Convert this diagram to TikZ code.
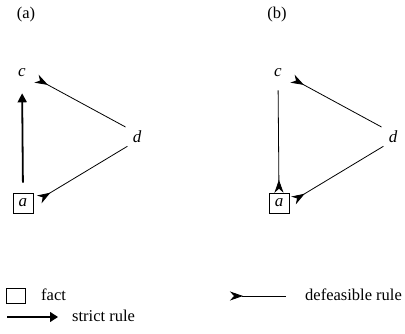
\documentclass[tikz,border=0pt]{standalone}
\usepackage{fontspec}
\setmainfont{Liberation Serif}
\usetikzlibrary{arrows.meta}

\tikzset{
    lit/.style={inner sep=0pt, font=\fontsize{17}{20}\selectfont\itshape},
    fact/.style={draw, line width=0.6pt, inner sep=0pt, minimum size=20pt, font=\fontsize{17}{20}\selectfont\itshape},
    txt/.style={inner sep=0pt, font=\fontsize{16.5}{19}\selectfont},
    strict/.style={-{Triangle[length=9pt, width=9pt]}, line width=1.8pt},
    defeasible/.style={{Stealth[reversed, length=13pt, width=9pt, inset=4pt]}-, line width=0.8pt}
}

\begin{document}
\begin{tikzpicture}[x=1pt, y=-1pt]
    \useasboundingbox (0,0) rectangle (405,334);
    % (a)
    \node[txt] (la) at (26,15) {(a)};
    \node[lit] (ca) at (22,73) {c};
    \node[lit] (da) at (137,137) {d};
    \node[fact] (aa) at (23,203) {a};
    \draw[strict, shorten <=10pt, shorten >=16pt] (aa.north) -- (ca.south);
    \draw[defeasible, shorten <=12pt, shorten >=8pt] (ca.east) -- (da.north west);
    \draw[defeasible, shorten <=7pt, shorten >=6pt] (aa.east) -- (da.south west);
    % (b)
    \node[txt] (lb) at (277,15) {(b)};
    \node[lit] (cb) at (278,73) {c};
    \node[lit] (db) at (393,137) {d};
    \node[fact] (ab) at (279,203) {a};
    \draw[defeasible, shorten >=13pt] (ab.north) -- (cb.south);
    \draw[defeasible, shorten <=12pt, shorten >=8pt] (cb.east) -- (db.north west);
    \draw[defeasible, shorten <=5pt, shorten >=6pt] (ab.east) -- (db.south west);
    % legend
    \node[draw, line width=0.6pt, minimum width=19pt, minimum height=15pt, inner sep=0pt] (kf) at (16,296) {};
    \node[txt, anchor=base west] (tf) at (41,301) {fact};
    \coordinate (d1) at (230,296);
    \coordinate (d2) at (286,296);
    \draw[defeasible] (d1) -- (d2);
    \node[txt, anchor=base west] (td) at (305,301) {defeasible rule};
    \coordinate (s1) at (7,317);
    \coordinate (s2) at (58,317);
    \draw[-{Triangle[length=8pt, width=10pt]}, line width=1.2pt] (s1) -- (s2);
    \node[txt, anchor=base west] (ts) at (72,322) {strict rule};
\end{tikzpicture}
\end{document}
